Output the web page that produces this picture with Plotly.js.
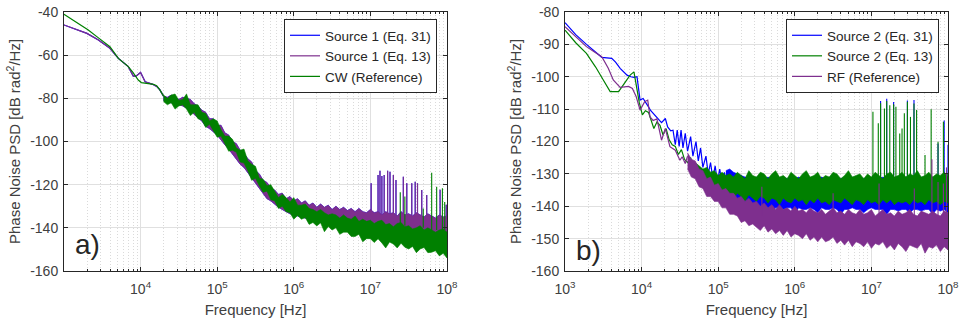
<!DOCTYPE html>
<html>
<head>
<meta charset="utf-8">
<script src="https://cdn.plot.ly/plotly-3.0.1.min.js"></script>
<style>
html,body{margin:0;padding:0;background:#fff;}
#chart{width:960px;height:322px;}
</style>
</head>
<body>
<div id="chart"></div>
<script>
// ---------- DATA (frequencies given as log10(f / Hz)) ----------
// Panel a) smooth low-frequency parts
const greenLeftLineF = [3.0, 3.15, 3.317, 3.45, 3.60, 3.71, 3.78, 3.84, 3.90, 3.97, 4.01, 4.06, 4.12, 4.17, 4.21, 4.25, 4.30];
const greenLeftLineV = [-41, -44.5, -48.3, -52, -56.1, -61.5, -63.5, -65.3, -68, -71.5, -72.7, -73, -73.3, -73.5, -74.2, -76, -79];
const purpleLeftLineF = [3.0, 3.30, 3.45, 3.60, 3.71, 3.78, 3.84, 3.905, 3.94, 4.0, 4.03, 4.06, 4.15, 4.21, 4.25, 4.30];
const purpleLeftLineV = [-46, -49.9, -53, -56.8, -61.5, -63.5, -65.3, -69.7, -69.7, -68, -70, -72.3, -73.4, -74.5, -76, -79];

// Panel a) noisy parts: frequency grid + upper / lower envelope of the noise
const gridLeft = [4.30,4.35,4.40,4.45,4.50,4.55,4.60,4.65,4.70,4.75,4.80,4.85,4.90,4.95,5.00,5.05,5.10,5.15,5.20,5.25,5.30,5.35,5.40,5.45,5.50,5.55,5.60,5.65,5.70,5.75,5.80,5.85,5.90,5.95,6.00,6.05,6.10,6.15,6.20,6.25,6.30,6.35,6.40,6.45,6.50,6.55,6.60,6.65,6.70,6.75,6.80,6.85,6.90,6.95,7.00,7.05,7.10,7.15,7.20,7.25,7.30,7.35,7.40,7.45,7.50,7.55,7.60,7.65,7.70,7.75,7.80,7.85,7.90,7.95,8.00];
const greenLeftHi = [-78.5,-80,-78.5,-78,-81, -80.5,-78,-83,-83,-83, -86.5,-87,-90.5,-89.5,-90.5, -94.5,-97.5,-97.5,-99,-103, -104,-103.5,-109,-110.5,-111.5, -117,-117.5,-120.5,-120,-123, -126,-124.5,-126,-128,-126, -129.5,-129.5,-129,-131,-131.5, -132.5,-131.5,-133,-134,-133.5, -134,-135.5,-134,-135.5,-136, -134.5,-137,-136,-137,-136.5, -138,-137,-136.5,-138.5,-138, -139.5,-138,-137.5,-139.5,-139, -140.5,-140,-139,-141,-140, -141,-142,-141,-140.5,-142];
const greenLeftLo = [-81.5,-83,-82,-85,-83.5, -83,-85,-88,-86.5,-89.5, -90,-93.5,-92,-95,-98, -97.5,-101,-104.5,-104,-105, -109.5,-110,-113.5,-118,-117, -120.5,-123.5,-123,-127,-127.5, -131,-130,-132.5,-133,-136, -134.3,-136,-135.2,-138.4,-137.5, -139.1,-137.7,-141.8,-139.4,-141, -140,-143,-142,-142,-144, -144,-143,-146.5,-145,-145, -146.8,-145.1,-147,-149.3,-146.6, -147.5,-149.3,-147.1,-149,-149.8, -148.6,-151.5,-149.8,-149.1,-151.5, -151.3,-150.6,-153,-151.8,-154];
const purpleLeftHi = [-79,-79.5,-78.5,-79.5,-80.5, -79.5,-80,-80.5,-82.5,-83.5, -85.5,-86.5,-89.5,-89.5,-92.5, -92.5,-96,-97,-100,-101, -104,-105.5,-108,-109.5,-113.5, -115,-118,-119,-121.5,-122.5, -124.5,-124,-126.5,-125.5,-127.5, -126.5,-128.5,-127.5,-129.5,-128.5, -130.5,-129,-130.5,-129.5,-131.5, -130,-131.5,-130.5,-132,-131, -132.5,-131,-132.5,-133,-131.5, -133,-132.5,-134,-132.5,-133.5, -133,-134.5,-132.5,-134,-133.5, -134.5,-133,-134,-135,-133.5, -134.5,-135.5,-134,-135,-134.5];
const purpleLeftLo = [-81,-82,-82,-83,-83, -83.5,-84.5,-85.5,-87.5,-89, -90.5,-93,-94,-95.5,-97, -99,-101.5,-103.5,-106,-108, -110.5,-112,-114.5,-117,-119, -121.5,-124,-126.5,-127.5,-129, -130.5,-131.5,-132.5,-133.5,-134, -134.5,-135,-135.5,-136,-136.5, -137,-137.5,-138,-138,-138.5, -139,-139,-139.5,-140,-140, -140.5,-141,-141,-141.5,-142, -142,-142.5,-143,-143,-143.5, -144,-144,-144.5,-145,-145, -145.5,-146,-146,-146.5,-147, -147,-147.5,-147.5,-148,-148.5];

// Panel a) spurs
const purpleLeftSpurF = [7.01, 7.10, 7.125, 7.15, 7.18, 7.225, 7.256, 7.30, 7.334, 7.43, 7.475, 7.54, 7.585, 7.615, 7.67, 7.735, 7.91, 7.99];
const purpleLeftSpurTop = [-119.4, -115.5, -113.5, -116, -115.5, -113.5, -114, -115.5, -117.8, -116.3, -119.4, -119.4, -118.6, -119.4, -122.5, -124.8, -122.3, -129.3];
const purpleLeftSpurBase = [-134, -134, -134, -134, -134, -134, -134, -134, -134, -135, -135, -135, -135, -135, -135, -135, -136, -136];
const greenLeftSpurF = [7.39, 7.45, 7.69, 7.80, 7.865, 7.94, 7.97];
const greenLeftSpurTop = [-123.5, -125.5, -131, -114.5, -121, -121.7, -128];
const greenLeftSpurBase = [-139, -139, -140, -141, -141, -141, -141];

// Panel b) smooth low-frequency parts
const blueRightLineF = [3.0,3.14,3.28,3.38,3.48, 3.61,3.66,3.72,3.81,3.86, 3.90,3.94,3.98,4.02,4.06, 4.09,4.12,4.15,4.20,4.26, 4.31,4.34,4.38,4.41,4.44, 4.465,4.49,4.515,4.54,4.57, 4.60,4.64,4.67,4.71,4.74, 4.77,4.80,4.84,4.87,4.90, 4.93,4.96,4.99,5.02,5.05, 5.08,5.10];
const blueRightLineV = [-83.3,-87,-90,-92,-94, -94.3,-95.5,-97.4,-99.5,-100, -100.2,-100,-107.2,-106.7,-108, -109.3,-110.5,-111.3,-112.4,-114.2, -112.9,-115.5,-116.7,-116.5,-121, -116.5,-121.5,-116.5,-122,-117.5, -123,-118.5,-124.5,-120,-126, -122,-128,-124.5,-130,-126.5, -131.5,-127.5,-132.5,-128.5,-133, -129.5,-132];
const greenRightLineF = [3.0,3.14,3.28,3.40,3.50, 3.59,3.70,3.78,3.85,3.90, 3.93,3.97,4.01,4.05,4.09, 4.13,4.16,4.20,4.24,4.28, 4.32,4.36,4.40,4.44,4.48, 4.52,4.56,4.60,4.64,4.68, 4.70];
const greenRightLineV = [-85.6,-89.5,-92.8,-97,-101, -104.6,-104.6,-102,-99.5,-98.5, -103,-108,-111.8,-110.5,-111, -114,-116,-114,-115,-118, -116,-119.5,-121,-121.5,-124, -122.5,-125.5,-126.5,-125,-128, -127];
const purpleRightLineF = [3.0,3.14,3.28,3.38,3.48, 3.565,3.63,3.72,3.83,3.88, 3.93,3.98,4.04,4.08,4.11, 4.15,4.20,4.26,4.31,4.37, 4.44,4.50,4.53,4.57,4.60];
const purpleRightLineV = [-84.5,-87.5,-90.7,-92.3,-93.8, -97.4,-101,-103.3,-103,-103.6, -106.2,-110.3,-107.7,-107.2,-112.4, -113.5,-113,-119.6,-116,-121.6, -122.7,-125.8,-124.7,-126.8,-124.5];

// Panel b) noisy parts
const gridRight = [4.60,4.65,4.70,4.75,4.80,4.85,4.90,4.95,5.00,5.05,5.10,5.15,5.20,5.25,5.30,5.35,5.40,5.45,5.50,5.55,5.60,5.65,5.70,5.75,5.80,5.85,5.90,5.95,6.00,6.05,6.10,6.15,6.20,6.25,6.30,6.35,6.40,6.45,6.50,6.55,6.60,6.65,6.70,6.75,6.80,6.85,6.90,6.95,7.00,7.05,7.10,7.15,7.20,7.25,7.30,7.35,7.40,7.45,7.50,7.55,7.60,7.65,7.70,7.75,7.80,7.85,7.90,7.95,8.00];
// purple uses gridRight from 4.60, green from 4.70, blue from 5.10
const purpleRightHi = [-123.5,-125.5,-126,-128.5,-129, -131.5,-131,-133.5,-133,-135, -134.5,-136,-136,-137.5,-137, -138.5,-137.5,-139,-138.5,-140, -139,-140.5,-139.5,-141,-139.5, -141,-140.5,-141.5,-140,-141.5, -141,-142,-140.5,-141.5,-142, -141,-142.5,-141.5,-140.5,-142, -141.5,-142.5,-141,-142,-142.5, -141,-142.5,-142,-141,-143, -142,-141,-142.5,-142,-143, -141.5,-142.5,-142,-141,-142.5, -143,-141.5,-142,-142.5,-141.5, -142.5,-143,-141.5,-142];
const purpleRightLo = [-128.5,-131,-131.5,-134,-134.5, -137,-137,-138.5,-138.5,-140.5, -140.5,-142.5,-142.5,-143,-145, -144.5,-146,-145.5,-146.5,-147.5, -146,-148,-147,-148.5,-147.5, -149,-147.5,-149.5,-148.5,-149, -150,-148.5,-150.5,-149.5,-151, -149.5,-151,-150.5,-149.5,-151.5, -150.5,-152,-150.5,-152.5,-151, -151.5,-152.5,-151,-153,-151.5, -152,-151,-153,-152,-153.5, -151.5,-152.5,-154,-152,-152.5, -153,-151.5,-154.5,-152.5,-153, -152,-154,-152.5,-153.5];
const greenRightHi = [-126.5,-127.5,-128.5,-128,-129.5, -129,-130.5,-129.5,-130.5,-130, -131,-129.5,-130.5,-131.5,-129, -130.5,-131,-129.5,-130,-131.5, -130,-129,-131,-130.5,-131.5, -129.5,-130.5,-131.5,-130,-129, -131,-130.5,-129.5,-131.5,-130.5, -131,-129.5,-130,-131.5,-130.5, -129,-131,-130.5,-130,-131.5, -130,-131,-129.5,-130.5,-131.5, -130,-129.5,-131,-130.5,-129.5, -131,-130,-130.5,-129,-131, -130.5,-129.5,-131,-130,-130.5, -129.5,-131];
const greenRightLo = [-130.5,-131.5,-133,-133.5,-134.5, -134.5,-135.5,-135,-136.5,-136, -137.5,-136,-137,-138.5,-136.5, -137.5,-138.5,-137,-137.5,-139, -137.5,-138,-139.5,-137.5,-138.5, -139,-137.5,-138.5,-138,-139.5, -138,-139,-137.5,-139,-138.5, -139.5,-138,-138.5,-139,-137.5, -138.5,-139.5,-138,-138.5,-139.5, -138,-139,-138.5,-139.5,-138, -139,-138,-139.5,-138.5,-139, -138.5,-139.5,-138,-139,-138.5, -139.5,-138,-139,-138.5,-139.5, -138.5,-139];
const blueRightHi = [-129,-128.5,-129.5,-130,-130.5, -131,-131,-131.5,-131,-131.5, -131.5,-131,-131.5,-131,-131.5, -131,-131.5,-131,-131.5,-131, -131.5,-131,-131.5,-131,-131.5, -131,-131.5,-131,-131.5,-131, -131.5,-131,-131.5,-131,-131.5, -131,-131.5,-131,-131.5,-131, -131.5,-131,-131.5,-131,-131.5, -131,-131.5,-131,-131.5,-131, -131.5,-131,-131.5,-131,-131.5, -131,-131.5,-131,-131.5];
const blueRightLo = [-134.5,-136.5,-137,-138,-138.5, -139.5,-139,-140.5,-139.5,-140, -140.5,-140.5,-142,-140.5,-140.5, -141,-140.5,-140.5,-142.5,-140.5, -141,-141,-140.5,-141,-142, -140.5,-141,-141,-140.5,-141, -142.5,-141,-141,-140.5,-141, -141,-142,-141,-140.5,-141, -141,-141,-142.5,-141,-141, -141.5,-141,-141,-142,-141, -141,-141.5,-141,-141,-142.5, -141,-141.5,-141,-142];

// Panel b) spurs
const greenRightSpurF = [7.02, 7.09, 7.12, 7.17, 7.20, 7.24, 7.29, 7.32, 7.37, 7.40, 7.43, 7.47, 7.51, 7.556, 7.59, 7.70, 7.78, 7.87, 7.94, 7.99];
const greenRightSpurTop = [-110.8, -114.4, -108.2, -109.8, -107.5, -108.8, -108.5, -109.3, -117.5, -116, -111.3, -107.7, -112.4, -108.3, -110.3, -124.2, -110, -120.1, -113.9, -130];
const greenRightSpurBase = [-137, -137, -137, -137, -137, -137, -137, -137, -137, -137, -137, -137, -137, -137, -137, -137, -137, -137, -137, -137];
const blueRightSpurF = [7.12, 7.20, 7.29, 7.47, 7.556, 7.87, 7.95, 8.0];
const blueRightSpurTop = [-107.5, -106.8, -107.8, -107.3, -107.2, -120.6, -113.5, -121];
const blueRightSpurBase = [-135, -135, -135, -135, -135, -135, -135, -135];
const purpleRightSpurF = [5.57, 6.5, 7.10, 7.56, 7.79, 7.87, 7.94, 7.98];
const purpleRightSpurTop = [-134, -136, -133, -134.5, -125.5, -132.5, -133, -128];
const purpleRightSpurBase = [-143, -143, -143, -143, -143, -143, -143, -143];

// Axis ticks
const majorTicks = [1e3, 1e4, 1e5, 1e6, 1e7, 1e8];
const majorTickText = ['10<sup>3</sup>', '10<sup>4</sup>', '10<sup>5</sup>', '10<sup>6</sup>', '10<sup>7</sup>', '10<sup>8</sup>'];
const yTicksLeft = [-160, -140, -120, -100, -80, -60, -40];
const yTicksRight = [-160, -150, -140, -130, -120, -110, -100, -90, -80];
const legendLeft = ['Source 1 (Eq. 31)', 'Source 1 (Eq. 13)', 'CW (Reference)'];
const legendRight = ['Source 2 (Eq. 31)', 'Source 2 (Eq. 13)', 'RF (Reference)'];

// ---------- STYLE ----------
const BLUE = '#0000ff', PURPLE = '#7e2f8e', GREEN = '#008000';
const AXC = '#262626';
const LBL = '#404040';
const FONT = 'Liberation Sans, Arial, Helvetica, sans-serif';

const hz = a => a.map(v => Math.pow(10, v));

function lineTrace(F, V, color, name, xa, ya, leg, show) {
  return {x: hz(F), y: V, type: 'scatter', mode: 'lines', name: name,
    line: {color: color, width: 1.2}, xaxis: xa, yaxis: ya,
    legend: leg, showlegend: show, legendgroup: name + leg, hoverinfo: 'skip'};
}
function bandTrace(F, hi, lo, color, xa, ya, name, leg) {
  const f = hz(F);
  return {x: f.concat(f.slice().reverse()), y: hi.concat(lo.slice().reverse()),
    type: 'scatter', mode: 'lines', fill: 'toself', fillcolor: color,
    line: {color: color, width: 0.6}, xaxis: xa, yaxis: ya,
    showlegend: false, legend: leg, legendgroup: name + leg, hoverinfo: 'skip'};
}
function spurTrace(F, top, base, color, xa, ya, name, leg) {
  const x = [], y = [];
  F.forEach((v, i) => { const f = Math.pow(10, v); x.push(f, f, null); y.push(base[i], top[i], null); });
  return {x: x, y: y, type: 'scatter', mode: 'lines', line: {color: color, width: 1.1},
    xaxis: xa, yaxis: ya, showlegend: false, legend: leg, legendgroup: name + leg, hoverinfo: 'skip'};
}

const traces = [
  // panel a) : blue (hidden below purple), purple, green
  lineTrace(purpleLeftLineF, purpleLeftLineV, BLUE, legendLeft[0], 'x', 'y', 'legend', true),
  bandTrace(gridLeft, purpleLeftHi, purpleLeftLo, BLUE, 'x', 'y', legendLeft[0], 'legend'),
  spurTrace(purpleLeftSpurF, purpleLeftSpurTop, purpleLeftSpurBase, BLUE, 'x', 'y', legendLeft[0], 'legend'),
  lineTrace(purpleLeftLineF, purpleLeftLineV, PURPLE, legendLeft[1], 'x', 'y', 'legend', true),
  bandTrace(gridLeft, purpleLeftHi, purpleLeftLo, PURPLE, 'x', 'y', legendLeft[1], 'legend'),
  spurTrace(purpleLeftSpurF, purpleLeftSpurTop, purpleLeftSpurBase, PURPLE, 'x', 'y', legendLeft[1], 'legend'),
  lineTrace(greenLeftLineF, greenLeftLineV, GREEN, legendLeft[2], 'x', 'y', 'legend', true),
  bandTrace(gridLeft, greenLeftHi, greenLeftLo, GREEN, 'x', 'y', legendLeft[2], 'legend'),
  spurTrace(greenLeftSpurF, greenLeftSpurTop, greenLeftSpurBase, GREEN, 'x', 'y', legendLeft[2], 'legend'),
  // panel b) : blue, green, purple
  lineTrace(blueRightLineF, blueRightLineV, BLUE, legendRight[0], 'x2', 'y2', 'legend2', true),
  bandTrace(gridRight.slice(10), blueRightHi, blueRightLo, BLUE, 'x2', 'y2', legendRight[0], 'legend2'),
  spurTrace(blueRightSpurF, blueRightSpurTop, blueRightSpurBase, BLUE, 'x2', 'y2', legendRight[0], 'legend2'),
  lineTrace(greenRightLineF, greenRightLineV, GREEN, legendRight[1], 'x2', 'y2', 'legend2', true),
  bandTrace(gridRight.slice(2), greenRightHi, greenRightLo, GREEN, 'x2', 'y2', legendRight[1], 'legend2'),
  spurTrace(greenRightSpurF, greenRightSpurTop, greenRightSpurBase, GREEN, 'x2', 'y2', legendRight[1], 'legend2'),
  lineTrace(purpleRightLineF, purpleRightLineV, PURPLE, legendRight[2], 'x2', 'y2', 'legend2', true),
  bandTrace(gridRight, purpleRightHi, purpleRightLo, PURPLE, 'x2', 'y2', legendRight[2], 'legend2'),
  spurTrace(purpleRightSpurF, purpleRightSpurTop, purpleRightSpurBase, PURPLE, 'x2', 'y2', legendRight[2], 'legend2')
];

function xAxis(domain, range, anchor) {
  return {type: 'log', domain: domain, range: range, anchor: anchor,
    tickmode: 'array', tickvals: majorTicks, ticktext: majorTickText,
    ticks: 'inside', ticklen: 4, tickwidth: 1, tickcolor: AXC, ticklabelstandoff: 5,
    showline: true, linecolor: AXC, linewidth: 1, mirror: 'allticks',
    showgrid: true, gridcolor: '#e0e0e0', gridwidth: 1, zeroline: false,
    tickfont: {family: FONT, size: 14, color: LBL},
    minor: {dtick: 'D1', ticks: 'inside', ticklen: 2, tickcolor: AXC,
            showgrid: true, gridcolor: '#dadada', griddash: '1px,2px', gridwidth: 1},
    title: {text: 'Frequency [Hz]', font: {family: FONT, size: 15, color: LBL}, standoff: 8}};
}
function yAxis(domain, range, vals, anchor) {
  return {domain: domain, range: range, anchor: anchor,
    tickmode: 'array', tickvals: vals, ticktext: vals.map(String),
    ticks: 'inside', ticklen: 4, tickwidth: 1, tickcolor: AXC, ticklabelstandoff: 2,
    showline: true, linecolor: AXC, linewidth: 1, mirror: 'allticks',
    showgrid: true, gridcolor: '#e0e0e0', gridwidth: 1, zeroline: false,
    tickfont: {family: FONT, size: 14, color: LBL},
    title: {text: 'Phase Noise PSD [dB rad<sup>2</sup>/Hz]', font: {family: FONT, size: 15, color: LBL}, standoff: 5}};
}

const yDom = [1 - 271 / 322, 1 - 12 / 322];
const legendStyle = {bgcolor: '#ffffff', bordercolor: AXC, borderwidth: 1,
  font: {family: FONT, size: 13.5, color: AXC}, xanchor: 'right', yanchor: 'top',
  y: 1 - 19 / 322, tracegroupgap: 0, itemwidth: 30};

const layout = {
  width: 960, height: 322,
  margin: {l: 0, r: 0, t: 0, b: 0},
  paper_bgcolor: '#ffffff', plot_bgcolor: '#ffffff',
  font: {family: FONT, color: AXC},
  xaxis: xAxis([64 / 960, 447 / 960], [3.0005, 8], 'y'),
  yaxis: yAxis(yDom, [-160, -40], yTicksLeft, 'x'),
  xaxis2: xAxis([565 / 960, 948 / 960], [3, 8], 'y2'),
  yaxis2: yAxis(yDom, [-160, -80], yTicksRight, 'x2'),
  legend: Object.assign({}, legendStyle, {x: 437 / 960}),
  legend2: Object.assign({}, legendStyle, {x: 939 / 960}),
  annotations: [
    {text: 'a)', xref: 'paper', yref: 'paper', x: 73 / 960, y: 1 - 262 / 322, xanchor: 'left', yanchor: 'bottom',
     showarrow: false, font: {family: FONT, size: 28, color: AXC}},
    {text: 'b)', xref: 'paper', yref: 'paper', x: 574 / 960, y: 1 - 268 / 322, xanchor: 'left', yanchor: 'bottom',
     showarrow: false, font: {family: FONT, size: 28, color: AXC}}
  ],
  showlegend: true
};

Plotly.newPlot('chart', traces, layout, {staticPlot: true, displayModeBar: false});
</script>
</body>
</html>
